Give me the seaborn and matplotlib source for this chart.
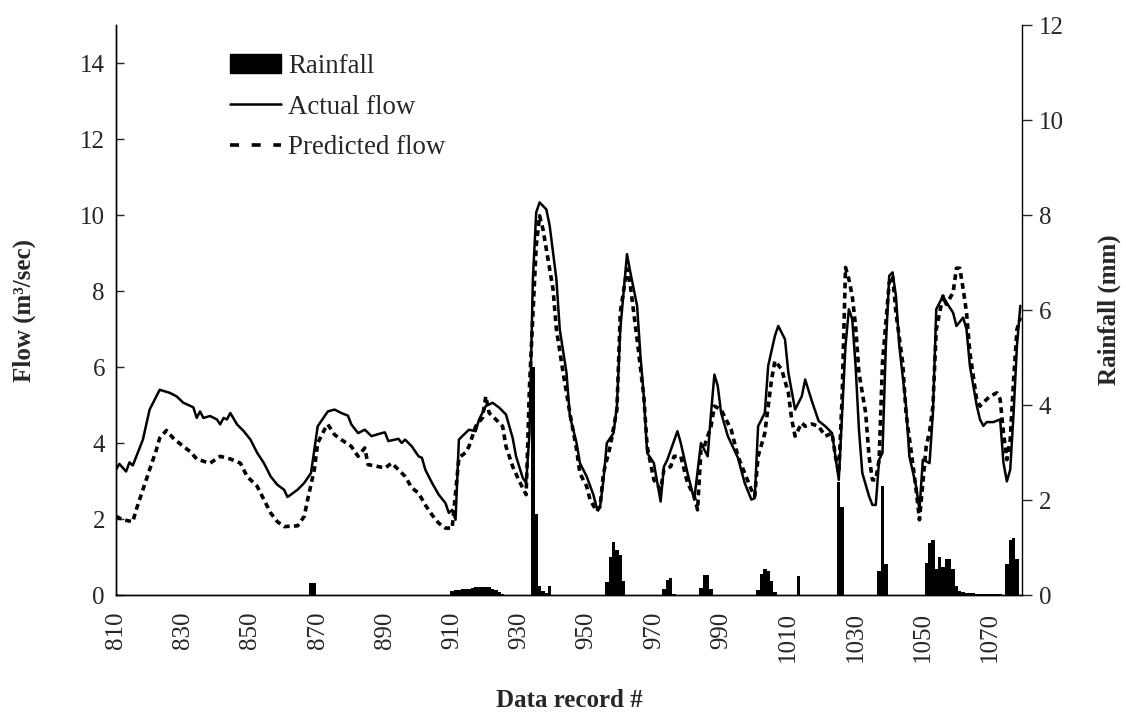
import matplotlib
matplotlib.use("Agg")
import matplotlib.pyplot as plt
from matplotlib.patches import Patch
from matplotlib.lines import Line2D
import seaborn as sns
import pandas as pd

# ---- observed flow (m3/sec) at selected data records ----
actual_rec = [810, 811, 813, 814, 815, 818, 820, 822, 823, 826, 828, 830, 833, 834, 835, 836,
              838, 840, 841, 842, 843, 844, 846, 848, 850, 852, 854, 856, 858, 860, 861, 862,
              864, 866, 868, 870, 872, 873, 875, 877, 879, 880, 882, 884, 886, 889, 890, 891,
              894, 895, 896, 898, 900, 901, 902, 904, 906, 908, 909, 910, 911, 912, 913, 915,
              917, 918, 920, 922, 924, 926, 928, 929, 931, 932, 933, 934, 935, 936, 938, 939,
              941, 942, 944, 945, 947, 948, 950, 952, 953, 954, 955, 956, 958, 959, 960, 962,
              963, 965, 966, 967, 968, 970, 972, 973, 974, 977, 978, 980, 981, 982, 984, 986,
              987, 988, 989, 990, 992, 995, 997, 999, 1000, 1001, 1003, 1004, 1006, 1007, 1009,
              1010, 1012, 1014, 1015, 1017, 1019, 1021, 1023, 1024, 1025, 1026, 1027, 1028, 1029,
              1030, 1031, 1032, 1034, 1035, 1036, 1037, 1038, 1039, 1040, 1041, 1042, 1043, 1045,
              1046, 1048, 1049, 1050, 1052, 1053, 1054, 1056, 1057, 1059, 1060, 1062, 1063, 1064,
              1066, 1067, 1068, 1069, 1071, 1073, 1074, 1075, 1076, 1077, 1078, 1079]
actual_flow = [3.30, 3.45, 3.25, 3.49, 3.41, 4.09, 4.88, 5.23, 5.40, 5.32, 5.23, 5.06, 4.94, 4.66, 4.83, 4.66,
               4.71, 4.62, 4.49, 4.66, 4.62, 4.79, 4.49, 4.31, 4.09, 3.74, 3.47, 3.12, 2.90, 2.77, 2.58, 2.64,
               2.77, 2.95, 3.21, 4.44, 4.70, 4.83, 4.88, 4.79, 4.72, 4.49, 4.26, 4.35, 4.18, 4.26, 4.28, 4.05,
               4.11, 4.00, 4.09, 3.91, 3.65, 3.61, 3.30, 2.95, 2.64, 2.42, 2.16, 2.24, 1.98, 4.09, 4.18, 4.35,
               4.31, 4.62, 4.97, 5.06, 4.93, 4.75, 4.13, 3.65, 3.08, 2.95, 4.26, 8.31, 10.07, 10.33, 10.15, 9.72,
               8.31, 6.99, 5.85, 4.71, 4.00, 3.47, 3.12, 2.64, 2.29, 2.33, 3.03, 4.00, 4.26, 4.97, 6.99, 8.97,
               8.49, 7.61, 6.30, 5.23, 3.74, 3.47, 2.46, 3.38, 3.56, 4.31, 4.00, 3.21, 2.86, 2.51, 4.00, 3.65,
               4.79, 5.80, 5.50, 4.79, 4.18, 3.61, 2.95, 2.51, 2.55, 4.44, 4.79, 6.03, 6.82, 7.08, 6.73,
               5.85, 4.88, 5.23, 5.67, 5.10, 4.58, 4.44, 4.26, 3.65, 3.03, 4.79, 6.56, 7.52, 7.26,
               6.03, 4.35, 3.21, 2.60, 2.37, 2.37, 3.56, 3.74, 6.56, 8.40, 8.49, 7.87, 6.56, 4.97,
               3.65, 2.86, 2.24, 3.56, 3.47, 4.79, 7.52, 7.87, 7.70, 7.43, 7.08, 7.30, 6.99, 6.03,
               5.00, 4.62, 4.45, 4.55, 4.55, 4.62, 3.47, 2.99, 3.30, 4.79, 6.56, 7.61]

# ---- model prediction (m3/sec) ----
pred_rec = [810, 812, 815, 816, 818, 820, 822, 823, 825, 827, 830, 832, 834, 836, 838, 841,
            844, 847, 849, 852, 854, 856, 858, 860, 864, 866, 867, 869, 870, 872, 873, 875,
            877, 880, 882, 884, 885, 888, 890, 892, 894, 896, 898, 900, 902, 904, 906, 908,
            910, 912, 914, 915, 917, 919, 920, 921, 923, 925, 926, 928, 930, 932, 933, 935,
            936, 937, 938, 940, 941, 943, 945, 947, 948, 950, 951, 953, 954, 955, 957, 959,
            960, 962, 963, 965, 967, 968, 970, 972, 973, 975, 976, 978, 979, 980, 982, 983,
            984, 985, 987, 988, 990, 991, 993, 995, 997, 999, 1000, 1001, 1003, 1005, 1006,
            1008, 1010, 1011, 1012, 1014, 1015, 1017, 1019, 1021, 1023, 1024, 1025, 1026, 1027,
            1028, 1029, 1030, 1031, 1033, 1034, 1035, 1036, 1037, 1038, 1040, 1041, 1042, 1044,
            1045, 1047, 1048, 1049, 1051, 1052, 1053, 1054, 1056, 1057, 1059, 1060, 1061, 1062,
            1063, 1064, 1066, 1067, 1069, 1070, 1072, 1073, 1074, 1075, 1076, 1077, 1078, 1079]
pred_flow = [2.07, 1.98, 1.93, 2.24, 2.77, 3.30, 3.82, 4.13, 4.33, 4.13, 3.91, 3.78, 3.58, 3.52, 3.47, 3.65,
             3.58, 3.47, 3.12, 2.86, 2.51, 2.16, 1.93, 1.80, 1.82, 2.07, 2.51, 3.30, 4.00, 4.35, 4.49, 4.22,
             4.09, 3.91, 3.65, 3.87, 3.43, 3.38, 3.34, 3.47, 3.30, 3.12, 2.82, 2.68, 2.37, 2.11, 1.89, 1.76,
             1.76, 3.61, 3.75, 3.91, 4.44, 4.66, 5.23, 4.79, 4.62, 4.44, 3.91, 3.38, 2.99, 2.64, 5.50, 9.19,
             9.98, 9.63, 9.10, 8.05, 6.99, 5.85, 4.79, 3.83, 3.20, 2.86, 2.51, 2.20, 2.33, 3.21, 3.91, 4.88,
             7.43, 8.58, 8.14, 6.73, 5.23, 3.91, 3.03, 2.77, 3.30, 3.38, 3.65, 3.65, 3.30, 2.95, 2.60, 2.24,
             3.83, 3.91, 4.44, 4.97, 4.88, 4.70, 4.35, 3.65, 3.21, 2.77, 2.60, 3.65, 4.26, 5.67, 6.16,
             5.94, 5.32, 4.62, 4.18, 4.53, 4.44, 4.50, 4.44, 4.18, 4.26, 3.65, 3.21, 5.23, 8.62,
             8.31, 7.87, 7.08, 5.85, 4.79, 3.65, 3.03, 3.03, 3.56, 6.12, 8.22, 8.40, 7.43, 6.12,
             4.79, 3.47, 2.77, 1.98, 3.91, 4.30, 4.97, 6.99, 7.87, 7.65, 7.96, 8.60, 8.60, 8.05,
             7.43, 6.38, 5.15, 4.97, 5.15, 5.23, 5.32, 5.15, 4.26, 3.56, 4.09, 5.67, 6.99, 7.30]

# ---- rainfall (mm) per data record ----
rain_rec = [810, 868, 869, 910, 911, 912, 913, 914, 915, 916, 917, 918, 919, 920, 921, 922, 923,
            924, 925, 934, 935, 936, 937, 938, 939, 956, 957, 958, 959, 960, 961, 973, 974, 975,
            976, 984, 985, 986, 987, 1001, 1002, 1003, 1004, 1005, 1006, 1013, 1025, 1026, 1037,
            1038, 1039, 1051, 1052, 1053, 1054, 1055, 1056, 1057, 1058, 1059, 1060, 1061, 1062,
            1063, 1064, 1065, 1066, 1067, 1068, 1069, 1070, 1071, 1072, 1073, 1075, 1076, 1077, 1078]
rain_mm = [0.03, 0.25, 0.25, 0.08, 0.10, 0.10, 0.12, 0.13, 0.13, 0.14, 0.16, 0.17, 0.17, 0.17, 0.16, 0.13, 0.10,
           0.06, 0.03, 4.80, 1.70, 0.20, 0.08, 0.05, 0.18, 0.28, 0.80, 1.12, 0.95, 0.85, 0.30, 0.12, 0.32, 0.35,
           0.03, 0.15, 0.42, 0.42, 0.12, 0.10, 0.45, 0.55, 0.50, 0.30, 0.06, 0.40, 2.38, 1.85, 0.50,
           2.30, 0.65, 0.67, 1.10, 1.15, 0.55, 0.80, 0.60, 0.75, 0.75, 0.55, 0.20, 0.08, 0.06,
           0.05, 0.05, 0.04, 0.03, 0.03, 0.02, 0.02, 0.02, 0.02, 0.02, 0.02, 0.65, 1.15, 1.20, 0.75]

x_ticks = list(range(810, 1071, 20))
flow_ticks = list(range(0, 15, 2))
rain_ticks = list(range(0, 13, 2))

sns.set_style("white")
plt.rcParams["font.family"] = ["Liberation Serif", "DejaVu Serif"]
plt.rcParams["font.size"] = 18

actual_df = pd.DataFrame({"record": actual_rec, "flow": actual_flow})
pred_df = pd.DataFrame({"record": pred_rec, "flow": pred_flow})
rain_df = pd.DataFrame({"record": rain_rec, "rain": rain_mm})

fig = plt.figure(figsize=(11.26, 7.24), dpi=100)
ax = fig.add_axes([116 / 1126, 1 - 595 / 724, (1022 - 116) / 1126, (595 - 25) / 724])
ax2 = ax.twinx()

# rainfall bars on the secondary axis
sns.barplot(data=rain_df, x="record", y="rain", native_scale=True, color="black",
            width=1.0, errorbar=None, linewidth=0, edgecolor="black", saturation=1, ax=ax2)

# flow lines on the primary axis
sns.lineplot(data=actual_df, x="record", y="flow", color="black", lw=1.8, ax=ax)
sns.lineplot(data=pred_df, x="record", y="flow", color="black", lw=2.6, ax=ax,
             linestyle=(0, (1.6, 1.2)))

ax.set_xlim(810, 1079.5)
ax2.set_xlim(810, 1079.5)
ax.set_ylim(0, 15)
ax2.set_ylim(0, 12)

ax.set_xticks(x_ticks)
ax.set_xticklabels([str(t) for t in x_ticks], rotation=90)
ax.set_yticks(flow_ticks)
ax2.set_yticks(rain_ticks)

for a in (ax, ax2):
    a.spines["top"].set_visible(False)
    for s in ("left", "right", "bottom"):
        a.spines[s].set_linewidth(1.0)
        a.spines[s].set_color("black")
    a.grid(False)
ax.spines["right"].set_visible(False)

ax.tick_params(axis="y", direction="in", length=6, width=1, labelsize=18, pad=8)
ax.tick_params(axis="x", direction="out", length=7, width=1, labelsize=18, pad=5)
ax2.tick_params(axis="y", direction="out", length=7, width=1, labelsize=18, pad=5)

ax.set_xlabel("Data record #", fontsize=18, fontweight="bold")
ax.set_ylabel("Flow (m³/sec)", fontsize=18, fontweight="bold")
ax2.set_ylabel("Rainfall (mm)", fontsize=18, fontweight="bold")
ax.xaxis.set_label_coords(0.5, -0.165)
ax.yaxis.set_label_coords(-0.088, 0.5)
ax2.yaxis.set_label_coords(1.083, 0.5)

handles = [Patch(facecolor="black", edgecolor="black"),
           Line2D([], [], color="black", lw=1.8),
           Line2D([], [], color="black", lw=2.6, linestyle=(0, (2.5, 3.5)))]
labels = ["Rainfall", "Actual flow", "Predicted flow"]
ax2.legend(handles, labels, loc="upper left", bbox_to_anchor=(230 / 1126, 1 - 54 / 724),
           bbox_transform=fig.transFigure, frameon=False, fontsize=19.4,
           handlelength=1.9, handleheight=0.7, handletextpad=0.25, labelspacing=0.58,
           borderaxespad=0, borderpad=0)

fig.savefig("out.png", dpi=100)
